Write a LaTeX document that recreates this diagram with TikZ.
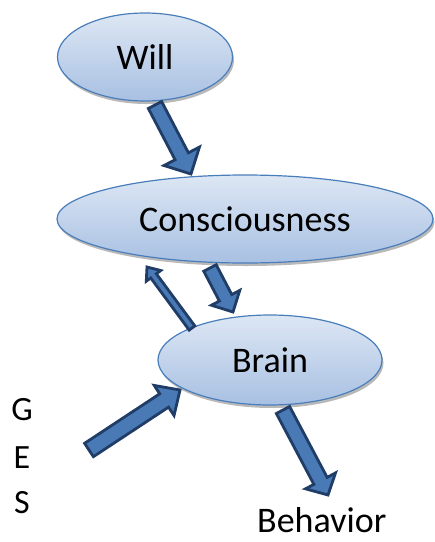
\documentclass[tikz,border=0pt]{standalone}
\usepackage{fontspec}
\setmainfont{Carlito}
\usetikzlibrary{calc,shapes.geometric,shadows}
\definecolor{ellborder}{HTML}{4A7EBB}
\definecolor{elltop}{HTML}{DDE7F4}
\definecolor{ellbot}{HTML}{A8C0E2}
\definecolor{arrfill}{HTML}{4A7AB5}
\definecolor{arrborder}{HTML}{1F3D66}
\tikzset{
  bubble/.style={ellipse, draw=ellborder, line width=1.2pt, top color=elltop, bottom color=ellbot,
    inner sep=0pt, font=\fontsize{36}{40}\selectfont,
    drop shadow={shadow xshift=1.5pt, shadow yshift=-3pt, fill=black!50, opacity=0.55}},
  blockarrow/.style={fill=arrfill, draw=arrborder, line width=2.8pt, line join=miter},
  plain/.style={inner sep=0pt, font=\fontsize{36}{40}\selectfont},
  side/.style={inner sep=0pt, font=\fontsize{34}{38}\selectfont}
}
% #1 tail, #2 tip, #3 shaft half width, #4 head half width, #5 head length
\newcommand{\blkarrow}[5]{%
  \path ($(#2)!#5!(#1)$) coordinate (ba);
  \draw[blockarrow] ($(#1)!#3!90:(#2)$) -- ($(ba)!#3!-90:(#1)$) -- ($(ba)!#4!-90:(#1)$) -- (#2)
    -- ($(ba)!#4!90:(#1)$) -- ($(ba)!#3!90:(#1)$) -- ($(#1)!#3!-90:(#2)$) -- cycle;
}
\begin{document}
\begin{tikzpicture}[x=1pt,y=-1pt]
\useasboundingbox (0,0) rectangle (435,542);
\node[bubble, minimum width=175pt, minimum height=88pt] (will) at (145,57) {Will};
\node[bubble, minimum width=376pt, minimum height=88pt] (cons) at (245,219) {Consciousness};
\node[bubble, minimum width=224pt, minimum height=90pt] (brain) at (270,360) {Brain};
\node[side] (g) at (22,410) {G};
\node[side] (e) at (22,458) {E};
\node[side] (s) at (22,503) {S};
\node[plain, anchor=base west] (beh) at (257,532) {Behavior};
% arrow end points
\coordinate (w1) at (155,105);
\coordinate (w2) at (191,174);
\coordinate (cb1) at (210,268);
\coordinate (cb2) at (233,312);
\coordinate (bc1) at (192,328);
\coordinate (bc2) at (147,267);
\coordinate (ges1) at (89,450);
\coordinate (ges2) at (180,390);
\coordinate (bb1) at (283,410);
\coordinate (bb2) at (328,495);
\blkarrow{w1}{w2}{7.5pt}{20pt}{20pt}
\blkarrow{cb1}{cb2}{7pt}{16pt}{16pt}
\blkarrow{bc1}{bc2}{3.5pt}{9pt}{11pt}
\blkarrow{ges1}{ges2}{8pt}{18pt}{19pt}
\blkarrow{bb1}{bb2}{7.5pt}{17pt}{16pt}
\end{tikzpicture}
\end{document}
